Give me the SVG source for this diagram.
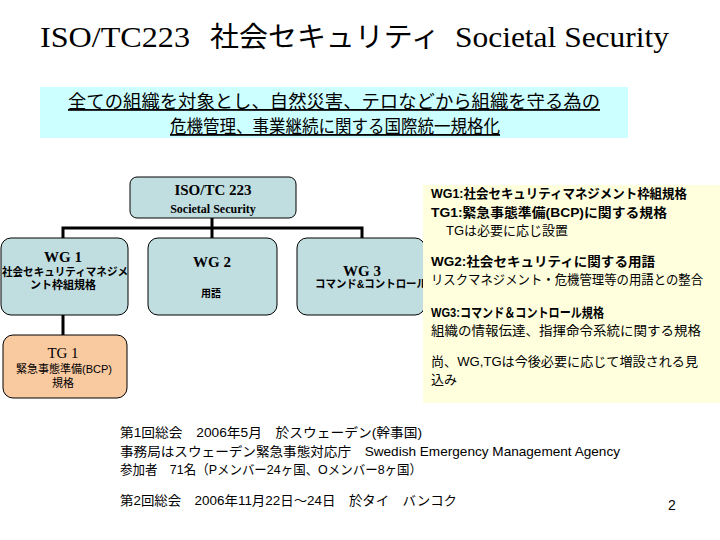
<svg xmlns="http://www.w3.org/2000/svg" width="720" height="540" viewBox="0 0 720 540">
<style>
.jp{font-family:"Liberation Sans","Noto Sans CJK JP",sans-serif;fill:#000}
.se{font-family:"Liberation Serif","Noto Serif CJK JP","Noto Sans CJK JP",serif;fill:#000}
.box{fill:#C0DEE0;stroke:#000;stroke-width:1}
.tg{fill:#F9C9A0;stroke:#000;stroke-width:1}
.con{stroke:#000;stroke-width:3;fill:none}
.b{font-weight:bold}
.m{text-anchor:middle}
</style>
<rect width="720" height="540" fill="#fff"/>
<g id="title">
<text class="se" x="40" y="47" font-size="30" textLength="150" lengthAdjust="spacingAndGlyphs">ISO/TC223</text>
<text class="jp" x="210" y="47" font-size="28" textLength="230" lengthAdjust="spacingAndGlyphs">社会セキュリティ</text>
<text class="se" x="455" y="47" font-size="30" textLength="214" lengthAdjust="spacingAndGlyphs">Societal Security</text>
</g>
<g id="banner">
<rect x="40" y="87" width="588" height="51" fill="#CCFFFF"/>
<text class="jp m" x="334" y="108" font-size="18" text-decoration="underline" textLength="532" lengthAdjust="spacingAndGlyphs">全ての組織を対象とし、自然災害、テロなどから組織を守る為の</text>
<text class="jp m" x="335" y="133" font-size="18" text-decoration="underline" textLength="330" lengthAdjust="spacingAndGlyphs">危機管理、事業継続に関する国際統一規格化</text>
</g>
<g id="connectors">
<path class="con" d="M212 218V238M63 238V228H362V238M63 315V335"/>
</g>
<g id="tc223">
<rect class="box" x="130" y="177" width="166" height="41" rx="7"/>
<text class="se b m" x="213" y="195" font-size="15">ISO/TC 223</text>
<text class="se b m" x="213" y="213" font-size="12">Societal Security</text>
</g>
<g id="wg1">
<rect class="box" x="1" y="238" width="127" height="77" rx="10"/>
<text class="se b m" x="63" y="262" font-size="15">WG 1</text>
<text class="jp b m" x="65" y="276" font-size="11" textLength="126" lengthAdjust="spacingAndGlyphs">社会セキュリティマネジメ</text>
<text class="jp b m" x="63" y="289" font-size="11">ント枠組規格</text>
</g>
<g id="wg2">
<rect class="box" x="148" y="238" width="129" height="77" rx="10"/>
<text class="se b m" x="212" y="267" font-size="15">WG 2</text>
<text class="jp b m" x="211" y="297" font-size="10">用語</text>
</g>
<g id="wg3">
<rect class="box" x="297" y="238" width="128" height="77" rx="10"/>
<text class="se b m" x="362" y="276" font-size="15">WG 3</text>
<text class="jp b" x="315" y="288" font-size="11" textLength="112" lengthAdjust="spacingAndGlyphs">コマンド&amp;コントロール</text>
</g>
<g id="tg1">
<rect class="tg" x="3" y="335" width="124" height="63" rx="10"/>
<text class="se m" x="63" y="358" font-size="15">TG 1</text>
<text class="jp m" x="64" y="373" font-size="11">緊急事態準備(BCP)</text>
<text class="jp m" x="63" y="387" font-size="11">規格</text>
</g>
<g id="notes">
<rect x="423" y="185" width="297" height="218" fill="#FFFFDD"/>
<text class="jp b" x="431" y="198" font-size="13" textLength="256" lengthAdjust="spacingAndGlyphs">WG1:社会セキュリティマネジメント枠組規格</text>
<text class="jp b" x="431" y="217" font-size="13" textLength="236" lengthAdjust="spacingAndGlyphs">TG1:緊急事態準備(BCP)に関する規格</text>
<text class="jp" x="446" y="235" font-size="13">TGは必要に応じ設置</text>
<text class="jp b" x="431" y="266" font-size="13" textLength="224" lengthAdjust="spacingAndGlyphs">WG2:社会セキュリティに関する用語</text>
<text class="jp" x="431" y="284" font-size="13" textLength="272" lengthAdjust="spacingAndGlyphs">リスクマネジメント・危機管理等の用語との整合</text>
<text class="jp b" x="431" y="317" font-size="13" textLength="173" lengthAdjust="spacingAndGlyphs">WG3:コマンド＆コントロール規格</text>
<text class="jp" x="431" y="335" font-size="13" textLength="270" lengthAdjust="spacingAndGlyphs">組織の情報伝達、指揮命令系統に関する規格</text>
<text class="jp" x="431" y="366" font-size="13" textLength="267" lengthAdjust="spacingAndGlyphs">尚、WG,TGは今後必要に応じて増設される見</text>
<text class="jp" x="431" y="384" font-size="13">込み</text>
</g>
<g id="footer">
<text class="jp" x="120" y="437" font-size="13" textLength="302" lengthAdjust="spacingAndGlyphs">第1回総会　2006年5月　於スウェーデン(幹事国)</text>
<text class="jp" x="120" y="456" font-size="13" textLength="500" lengthAdjust="spacingAndGlyphs">事務局はスウェーデン緊急事態対応庁　Swedish Emergency Management Agency</text>
<text class="jp" x="120" y="474" font-size="13" textLength="302" lengthAdjust="spacingAndGlyphs">参加者　71名（Pメンバー24ヶ国、Oメンバー8ヶ国）</text>
<text class="jp" x="120" y="505" font-size="13" textLength="337" lengthAdjust="spacingAndGlyphs">第2回総会　2006年11月22日～24日　於タイ　バンコク</text>
<text class="jp" x="668" y="510" font-size="14">2</text>
</g>
</svg>
